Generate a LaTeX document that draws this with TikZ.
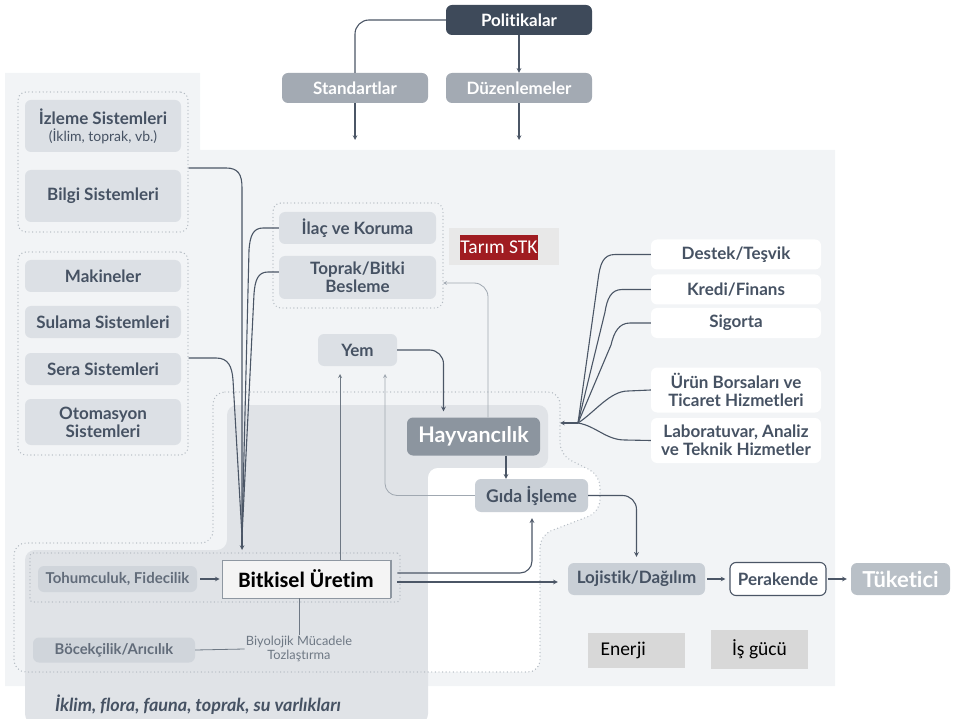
\documentclass[tikz,border=0pt]{standalone}
\usepackage{fontspec}
\setmainfont{Lato}[Ligatures=NoCommon]
\newfontfamily\calibri{Carlito}[Ligatures=NoCommon]
\usepackage{tikz}
\usetikzlibrary{arrows,calc,positioning}
\definecolor{bglight}{HTML}{F2F4F6}
\definecolor{panel}{HTML}{E0E3E7}
\definecolor{boxfill}{HTML}{DCE0E5}
\definecolor{lowfill}{HTML}{D0D5DB}
\definecolor{procfill}{HTML}{C9CFD6}
\definecolor{ink}{HTML}{465263}
\definecolor{pol}{HTML}{3E4A5A}
\definecolor{headgray}{HTML}{A3AAB3}
\definecolor{hayvgray}{HTML}{8C959F}
\definecolor{tukgray}{HTML}{B9C0C7}
\definecolor{linecol}{HTML}{4B5666}
\definecolor{thincol}{HTML}{6E7884}
\definecolor{palecol}{HTML}{A0A8B1}
\definecolor{dotgray}{HTML}{B3BAC2}
\definecolor{stkred}{HTML}{A01C21}
\definecolor{stkbg}{HTML}{E8E8E8}
\definecolor{enfill}{HTML}{D8D8D8}
\definecolor{bitfill}{HTML}{F4F4F4}
\definecolor{bitedge}{HTML}{8E97A1}
\tikzset{
  dotline/.style={draw=dotgray, line width=1.4pt, line cap=round, dash pattern=on 0pt off 3.6pt},
  grp/.style={dotline, rounded corners=8pt, inner sep=0pt},
  box/.style={fill=boxfill, rounded corners=6pt, text=ink, align=center, inner sep=0pt, font=\bfseries\fontsize{17}{18}\selectfont},
  darkbox/.style={box, fill=pol, text=white},
  headbox/.style={box, fill=headgray, text=white},
  lowbox/.style={box, fill=lowfill, text=ink!85, font=\bfseries\fontsize{15}{17}\selectfont},
  procbox/.style={box, fill=procfill},
  sidebox/.style={box, fill=white, minimum width=170pt},
  calbox/.style={inner sep=0pt, font=\calibri\fontsize{19.5}{21}\selectfont},
  flow/.style={draw=linecol, line width=1.1pt},
  thinflow/.style={draw=thincol, line width=0.8pt},
  paleflow/.style={draw=palecol, line width=0.8pt}
}

\begin{document}
\begin{tikzpicture}[x=1pt,y=-1pt,>=stealth]
\useasboundingbox (0,0) rectangle (953,719);
% backgrounds
\fill[bglight] (5,73) -- (200,73) -- (200,150) -- (835,150) -- (835,686) -- (5,686) -- cycle;
\fill[panel, rounded corners=10pt] (227,405) -- (548,405) -- (548,468) -- (428,468) -- (428,724) -- (25,724) -- (25,550) -- (227,550) -- cycle;
\path[save path=\zonepath, rounded corners=12pt] (213,392) -- (560,392) -- (560,455) -- (600,475) -- (600,512) -- (540,535) -- (540,672) -- (14,672) -- (14,543) -- (213,543) -- cycle;
\begin{scope}
  \clip[use path=\zonepath];
  \fill[white, rounded corners=10pt] (428,468) rectangle (640,700);
\end{scope}
\draw[dotline, use path=\zonepath];

% policy
\node[darkbox, minimum width=146pt, minimum height=30pt] (pol) at (519,20) {Politikalar};
\node[headbox, minimum width=146pt, minimum height=30pt] (std) at (355,88) {Standartlar};
\node[headbox, minimum width=146pt, minimum height=30pt] (duz) at (519,88) {Düzenlemeler};

% left column
\node[grp, minimum width=170pt, minimum height=140pt] (infogroup) at (103,162) {};
\node[box, minimum width=156pt, minimum height=52pt] (izleme) at (103,126) {İzleme Sistemleri\\[-1pt]{\mdseries\fontsize{14}{15}\selectfont (İklim, toprak, vb.)}};
\node[box, minimum width=156pt, minimum height=52pt] (bilgi) at (103,196) {Bilgi Sistemleri};
\node[grp, minimum width=170pt, minimum height=203pt] (machgroup) at (103,353.5) {};
\node[box, minimum width=156pt, minimum height=32pt] (makine) at (103,276) {Makineler};
\node[box, minimum width=156pt, minimum height=32pt] (sulama) at (103,322) {Sulama Sistemleri};
\node[box, minimum width=156pt, minimum height=32pt] (sera) at (103,369) {Sera Sistemleri};
\node[box, minimum width=156pt, minimum height=46pt] (otomasyon) at (103,422) {Otomasyon\\Sistemleri};

% middle
\node[grp, minimum width=170pt, minimum height=105pt] (inputgroup) at (358,255.5) {};
\node[box, minimum width=157pt, minimum height=32pt] (ilac) at (357.5,228) {İlaç ve Koruma};
\node[box, minimum width=157pt, minimum height=43pt] (toprak) at (357.5,277.5) {Toprak/Bitki\\Besleme};
\node[fill=stkbg, minimum width=110pt, minimum height=37pt, inner sep=0pt] (stkback) at (504,246.5) {};
\node[calbox, fill=stkred, text=white, minimum width=78pt, minimum height=25pt] (stk) at (499,247.5) {Tarım STK};
\node[box, minimum width=79pt, minimum height=32pt] (yem) at (357.5,350) {Yem};
\node[box, fill=hayvgray, text=white, minimum width=133pt, minimum height=38pt, font=\bfseries\fontsize{21.5}{23}\selectfont] (hayv) at (473.5,436.5) {Hayvancılık};
\node[procbox, minimum width=113pt, minimum height=33pt, font=\bfseries\fontsize{17.5}{19}\selectfont] (gida) at (531.5,495.5) {Gıda İşleme};

% right column
\node[sidebox, minimum height=30pt] (destek) at (736,254.5) {Destek/Teşvik};
\node[sidebox, minimum height=30pt] (kredi) at (736,289.5) {Kredi/Finans};
\node[sidebox, minimum height=30pt] (sigorta) at (736,323) {Sigorta};
\node[sidebox, minimum height=45pt] (urun) at (736,390) {Ürün Borsaları ve\\Ticaret Hizmetleri};
\node[sidebox, minimum height=45pt] (lab) at (736,440.5) {Laboratuvar, Analiz\\ve Teknik Hizmetler};

% production
\node[grp, rounded corners=3pt, minimum width=370pt, minimum height=49pt] (prodgroup) at (215,577.5) {};
\node[lowbox, minimum width=159pt, minimum height=26pt] (tohum) at (117.5,579) {Tohumculuk, Fidecilik};
\node[fill=bitfill, draw=bitedge, line width=0.6pt, minimum width=168pt, minimum height=38pt, inner sep=0pt, font=\calibri\bfseries\fontsize{22}{24}\selectfont] (bitkisel) at (306,579) {Bitkisel Üretim};
\draw[bitedge, line width=2pt] ([xshift=1pt]bitkisel.north east) -- ([xshift=1pt]bitkisel.south east);
\node[lowbox, minimum width=162pt, minimum height=25pt, font=\bfseries\fontsize{14.8}{16}\selectfont] (bocek) at (114,650) {Böcekçilik/Arıcılık};
\node[text=thincol, align=center, inner sep=1pt, font=\fontsize{12.8}{13.5}\selectfont] (biyo) at (299,649) {Biyolojik Mücadele\\Tozlaştırma};
\node[text=ink, font=\itshape\bfseries\fontsize{18}{20}\selectfont] (varlik) at (198,705) {İklim, flora, fauna, toprak, su varlıkları};

% market
\node[procbox, minimum width=137pt, minimum height=32pt] (loj) at (636.5,579) {Lojistik/Dağılım};
\node[box, fill=white, draw=linecol, line width=1.1pt, minimum width=96pt, minimum height=33pt] (pera) at (778,579) {Perakende};
\node[box, fill=tukgray, text=white, minimum width=99pt, minimum height=32pt, font=\bfseries\fontsize{22}{24}\selectfont] (tuk) at (900.5,579) {Tüketici};
\node[calbox, fill=enfill, minimum width=97pt, minimum height=35pt, text width=72pt, align=left] (enerji) at (636.5,650.5) {Enerji};
\node[calbox, fill=enfill, minimum width=97pt, minimum height=39pt] (isgucu) at (759.5,649.5) {İş gücü};

% policy arrows
\coordinate (stdout) at (355,140);
\coordinate (duzout) at (519,140);
\draw[flow, rounded corners=14pt] (pol.west) -| (std.north);
\draw[flow,->] (pol.south) -- (duz.north);
\draw[flow,->] (std.south) -- (stdout);
\draw[flow,->] (duz.south) -- (duzout);

% inputs to plant production
\coordinate (lefthub) at (242,536);
\coordinate (lefttip) at (242,550);
\draw[flow] ([yshift=-6pt]infogroup.east) -- (226,168) .. controls (238,168) and (242,174) .. (242,188) -- (lefthub);
\draw[flow] ([yshift=-4.5pt]machgroup.east) -- (216,358) .. controls (228,358) and (232,366) .. (233,380) -- (lefthub);
\draw[flow] (ilac.west) -- (263,228) .. controls (253,228) and (250,236) .. (249,250) -- (lefthub);
\draw[flow] ([yshift=5.5pt]toprak.west) -- (268,272) .. controls (258,272) and (255,280) .. (254,294) -- (lefthub);
\draw[flow,->] (lefthub) -- (lefttip);
\draw[flow,->, shorten <=3pt, shorten >=2pt] (tohum.east) -- (bitkisel.west);
\draw[thinflow] (bocek.east) -- (biyo.west);
\draw[thinflow] (biyo.north) -- (bitkisel.south -| biyo.north);

% livestock
\coordinate (yemin1) at (340,374);
\coordinate (yemin2) at (385,374);
\coordinate (stkin) at (443,283);
\draw[thinflow,->] (bitkisel.north -| yemin1) -- (yemin1);
\draw[paleflow,->, rounded corners=12pt] (gida.west) -| (yemin2);
\draw[flow,->, rounded corners=14pt, shorten >=6pt] (yem.east) -| ([xshift=-30pt]hayv.north);
\draw[flow,->] ([xshift=32.5pt]hayv.south) -- ([xshift=-25.5pt]gida.north);
\draw[paleflow,->, rounded corners=14pt] ([xshift=14.5pt]hayv.north) |- (stkin);

% services
\coordinate (fanhub) at (578,423);
\coordinate (fantip) at (560,423);
\draw[flow] (destek.west) -- (615,254.5) .. controls (603,254.5) and (600,264) .. (598,280) -- (fanhub);
\draw[flow] (kredi.west) -- (622,289.5) .. controls (611,289.5) and (607,299) .. (605,312) -- (fanhub);
\draw[flow] (sigorta.west) -- (630,323) .. controls (619,323) and (614,332) .. (611,345) -- (fanhub);
\draw[flow] (urun.west) -- (628,391) .. controls (610,391) and (595,412) .. (fanhub);
\draw[flow] (lab.west) -- (625,440) .. controls (606,440) and (596,426) .. (fanhub);
\draw[flow,->] (fanhub) -- (fantip);

% outputs
\draw[flow,->, rounded corners=12pt, shorten <=7pt, shorten >=6pt] ([yshift=6pt]bitkisel.east) -| ([xshift=0.5pt]gida.south);
\draw[flow,->, shorten <=7pt, shorten >=10pt] ([yshift=-3pt]bitkisel.east) -- ([yshift=-3pt]loj.west);
\draw[flow,->, rounded corners=14pt, shorten >=6pt] (gida.east) -| (loj.north);
\draw[flow,->, shorten <=2pt, shorten >=4pt] (loj) -- (pera);
\draw[flow,->, shorten <=1pt, shorten >=4pt] (pera) -- (tuk);
\end{tikzpicture}
\end{document}
